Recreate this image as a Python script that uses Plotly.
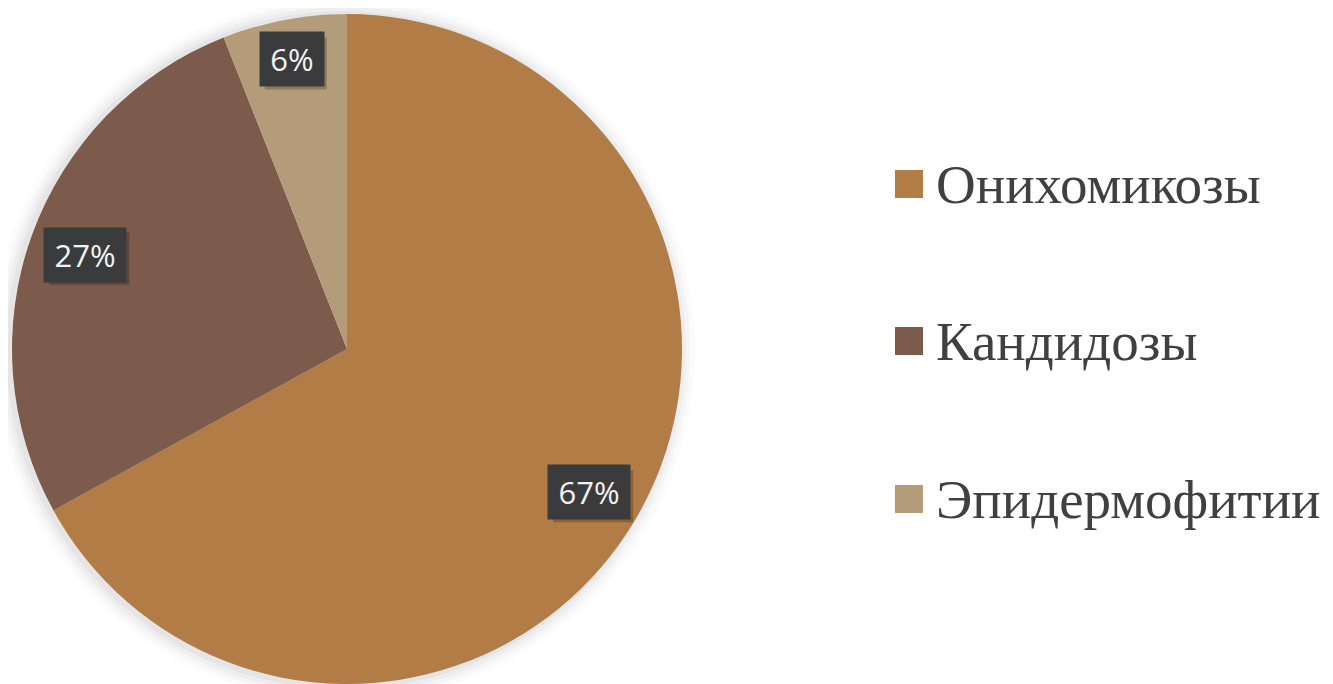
import math
import plotly.graph_objects as go

# ---- data ----
categories = ["Онихомикозы", "Кандидозы", "Эпидермофитии"]
values = [67, 27, 6]
label_texts = ["67%", "27%", "6%"]
colors = ["#B27C47", "#7C5A4C", "#B49C7A"]

W, H = 1333, 684
OFF = 8  # page body margin compensation

def fx(px):
    return (px - OFF) / W

def fy(py):
    return 1 - (py - OFF) / H

# pie geometry (page pixels)
cx, R = 347, 335
top = 14
cy = top + R
dom_x = [fx(cx - R), fx(cx + R)]
dom_y = [fy(cy + R), fy(cy - R)]

fig = go.Figure()
fig.add_trace(go.Pie(
    labels=categories, values=values,
    marker=dict(colors=colors, line=dict(width=0)),
    sort=False, direction="clockwise", rotation=0,
    textinfo="none", hoverinfo="label+percent",
    showlegend=False,
    domain=dict(x=dom_x, y=dom_y),
))

shapes = []
annotations = []

# soft shadow around pie
for grow, op in [(16, 0.025), (11, 0.035), (7, 0.045), (3, 0.06)]:
    r = R + grow
    shapes.append(dict(type="circle", xref="paper", yref="paper", layer="below",
                       x0=fx(cx - r - 3), x1=fx(cx + r - 3),
                       y0=fy(cy + r + 2), y1=fy(cy - r),
                       fillcolor=f"rgba(90,90,100,{op})", line=dict(width=0)))

# data labels (dark boxes) positioned at slice midpoints
label_r = [0.84, 0.83, 0.88]
total = sum(values)
cum = 0
for v, t, rf in zip(values, label_texts, label_r):
    mid = (cum + v / 2) / total * 2 * math.pi
    cum += v
    px = cx + rf * R * math.sin(mid)
    py = cy - rf * R * math.cos(mid)
    bw = 80 if len(t) > 2 else 62
    bh = 52
    # box shadow
    shapes.append(dict(type="rect", xref="paper", yref="paper", layer="above",
                       x0=fx(px + 4 - bw / 2), x1=fx(px + 4 + bw / 2),
                       y0=fy(py + 4 + bh / 2), y1=fy(py + 4 - bh / 2),
                       fillcolor="rgba(0,0,0,0.22)", line=dict(width=0)))
    annotations.append(dict(x=fx(px), y=fy(py), xref="paper", yref="paper",
                            xanchor="center", yanchor="middle",
                            text=t, showarrow=False, width=bw, height=bh,
                            bgcolor="#3a3b3c",
                            font=dict(family="Open Sans", size=31, color="#f2f2f2")))

# legend (squares + serif text)
leg_y = [184, 341, 499]
for name, col, ly in zip(categories, colors, leg_y):
    shapes.append(dict(type="rect", xref="paper", yref="paper",
                       x0=fx(895), x1=fx(923), y0=fy(ly + 14), y1=fy(ly - 14),
                       fillcolor=col, line=dict(width=0)))
    annotations.append(dict(x=fx(934), y=fy(ly), xref="paper", yref="paper",
                            xanchor="left", yanchor="middle", showarrow=False,
                            text=name,
                            font=dict(family="Liberation Serif", size=55, color="#404040")))

fig.update_layout(
    width=W, height=H,
    margin=dict(l=0, r=0, t=0, b=0),
    paper_bgcolor="white", plot_bgcolor="white",
    shapes=shapes, annotations=annotations,
    showlegend=False,
)

fig.write_html("out.html")
